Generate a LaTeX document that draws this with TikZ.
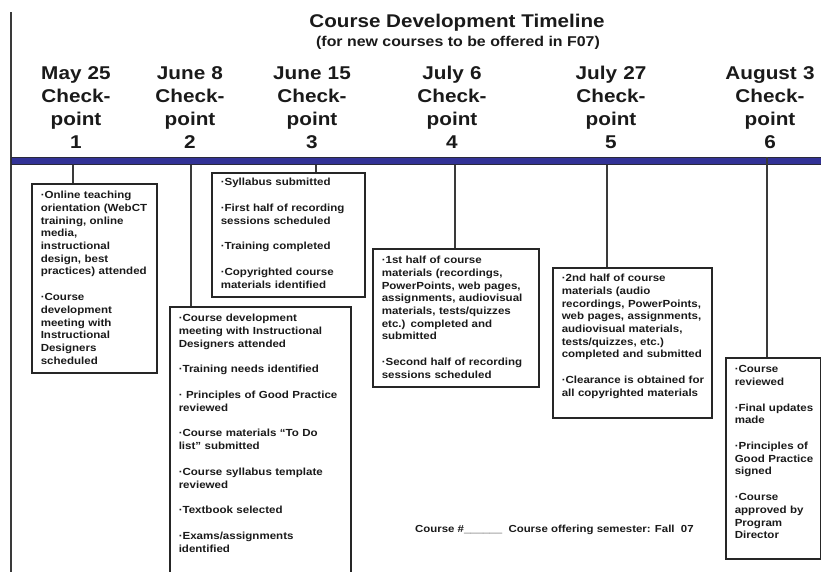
\documentclass[tikz,border=0pt]{standalone}
\usepackage{fontspec}
\setmainfont{Liberation Sans}[FakeStretch=1.12]
\definecolor{txt}{HTML}{1A1A1A}
\definecolor{boxline}{HTML}{262626}
\definecolor{linec}{HTML}{3A3A3A}
\definecolor{barblue}{RGB}{50,50,150}
\definecolor{bardark}{HTML}{2A2A3A}
\begin{document}
\begin{tikzpicture}[x=1pt,y=-1pt,
  tbox/.style={draw=boxline, line width=1.5pt, fill=white, anchor=north west,
    inner xsep=9pt, inner ysep=0pt, align=left, text=txt,
    font=\fontsize{10.3}{12.7}\selectfont\bfseries},
  hdr/.style={anchor=base, text width=120pt, align=center, inner sep=0pt, text=txt,
    font=\fontsize{18.5}{23}\selectfont\bfseries},
  conn/.style={draw=linec, line width=1.3pt}]
\clip (0,0) rectangle (821,571);
\fill[white] (0,0) rectangle (821,571);

% title
\node[anchor=base, inner sep=0pt, text=txt, font=\fontsize{18.4}{22}\selectfont\bfseries] (title) at (457,27) {Course Development Timeline};
\node[anchor=base, inner sep=0pt, text=txt, font=\fontsize{14.2}{17}\selectfont\bfseries] (sub) at (458,46) {(for new courses to be offered in F07)};

% headers
\node[hdr] (h1) at (76,79) {May 25\\Check-\\point\\1};
\node[hdr] (h2) at (190,79) {June 8\\Check-\\point\\2};
\node[hdr] (h3) at (312,79) {June 15\\Check-\\point\\3};
\node[hdr] (h4) at (452,79) {July 6\\Check-\\point\\4};
\node[hdr] (h5) at (611,79) {July 27\\Check-\\point\\5};
\node[hdr] (h6) at (770,79) {August 3\\Check-\\point\\6};

% left rule
\coordinate (lt) at (11,12);
\coordinate (lb) at (11,575);
\draw[conn] (lt) -- (lb);

% timeline bar
\node[fill=barblue, draw=bardark, line width=1pt, minimum width=830pt, minimum height=6.5pt, inner sep=0pt, anchor=north west] (bar) at (11,157) {};

% boxes
\node[tbox, text width=107pt, text height=15pt, text depth=174pt] (b1) at (31,183)
 {·Online teaching\\orientation (WebCT\\training, online\\media,\\instructional\\design, best\\\mbox{practices) attended}\\[13pt]
  ·Course\\development\\meeting with\\Instructional\\Designers\\scheduled};

\node[tbox, text width=163pt, text height=15pt, text depth=262pt] (b2) at (169,306)
 {·Course development\\meeting with Instructional\\Designers attended\\[13pt]
  ·Training needs identified\\[13pt]
  \mbox{· Principles of Good Practice}\\reviewed\\[13pt]
  ·Course materials “To Do\\list” submitted\\[13pt]
  ·Course syllabus template\\reviewed\\[13pt]
  ·Textbook selected\\[13pt]
  ·Exams/assignments\\identified};

\node[tbox, text width=135pt, text height=13pt, text depth=111pt] (b3) at (211,172)
 {·Syllabus submitted\\[13pt]
  ·First half of recording\\sessions scheduled\\[13pt]
  ·Training completed\\[13pt]
  ·Copyrighted course\\materials identified};

\node[tbox, text width=148pt, text height=15pt, text depth=123pt] (b4) at (372,248)
 {·1st half of course\\materials (recordings,\\PowerPoints, web pages,\\\mbox{assignments, audiovisual}\\materials, tests/quizzes\\etc.) completed and\\submitted\\[13pt]
  ·Second half of recording\\sessions scheduled};

\node[tbox, text width=141pt, text height=14pt, text depth=136pt] (b5) at (552,267)
 {·2nd half of course\\materials (audio\\\mbox{recordings, PowerPoints,}\\web pages, assignments,\\audiovisual materials,\\tests/quizzes, etc.)\\\mbox{completed and submitted}\\[13pt]
  \mbox{·Clearance is obtained for}\\all copyrighted materials};

\node[tbox, text width=77pt, text height=15pt, text depth=186pt] (b6) at (725,357)
 {·Course\\reviewed\\[13pt]
  \mbox{·Final updates}\\made\\[13pt]
  ·Principles of\\\mbox{Good Practice}\\signed\\[13pt]
  ·Course\\approved by\\Program\\Director};

% connectors
\coordinate (c1) at (73,0);
\coordinate (c2) at (191,0);
\coordinate (c3) at (316,0);
\coordinate (c4) at (455,0);
\coordinate (c5) at (607,0);
\coordinate (c6) at (767,0);
\draw[conn] (c1 |- bar.south) -- (c1 |- b1.north);
\draw[conn] (c2 |- bar.south) -- (c2 |- b2.north);
\draw[conn] (c3 |- bar.south) -- (c3 |- b3.north);
\draw[conn] (c4 |- bar.south) -- (c4 |- b4.north);
\draw[conn] (c5 |- bar.south) -- (c5 |- b5.north);
\draw[conn] (c6 |- bar.north) -- (c6 |- b6.north);

% footer
\node[anchor=base west, inner sep=0pt, text=txt, font=\fontsize{10.2}{12}\selectfont\bfseries] (foot) at (415,532)
 {Course \#\_\_\_\_\_\_\ \ Course offering semester: Fall\ \ 07};
\end{tikzpicture}
\end{document}
